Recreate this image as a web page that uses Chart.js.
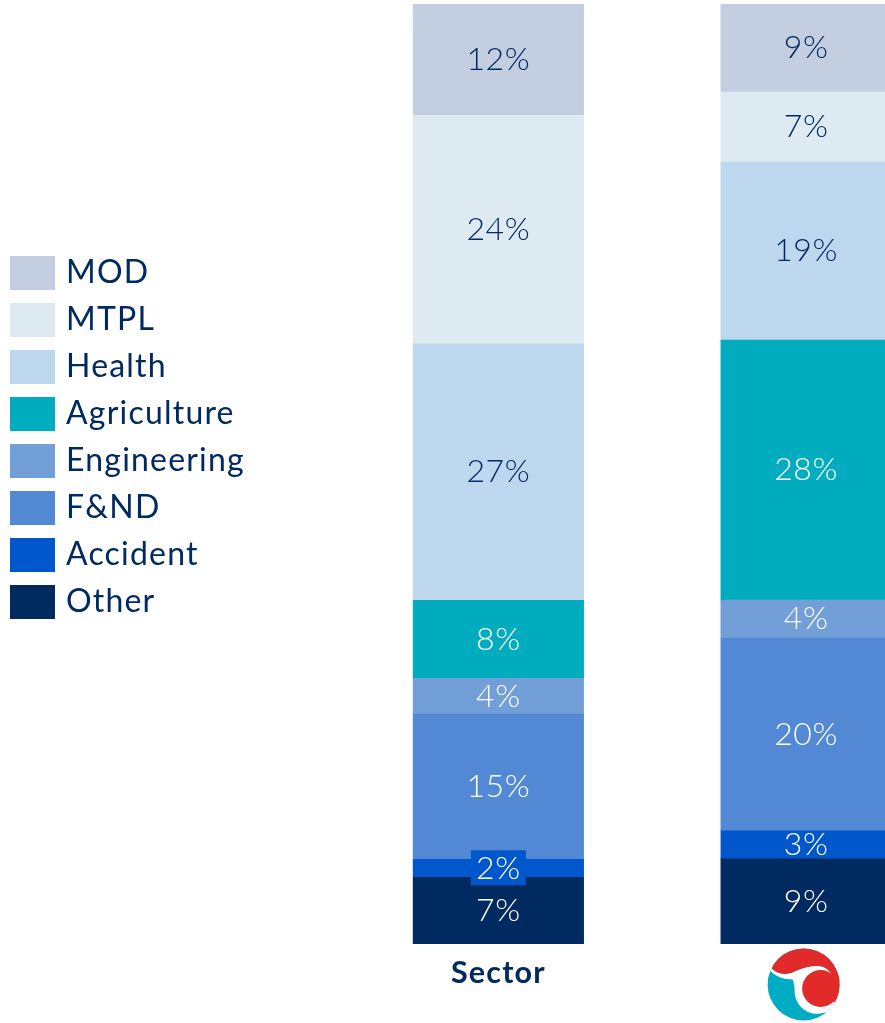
<!DOCTYPE html>
<html><head><meta charset="utf-8">
<style>html,body{margin:0;padding:0;background:#fff;overflow:hidden;width:885px;height:1023px}canvas{display:block}</style>
<script src="https://cdn.jsdelivr.net/npm/chart.js@4"></script>
</head><body><canvas id="c" width="960" height="1023"></canvas>
<script>
const categories = ['Sector', ''];
const other       = [7.1, 9.05];
const accident    = [1.9, 3.0];
const fnd         = [15.45, 20.49];
const engineering = [3.8, 4.05];
const agriculture = [8.3, 27.65];
const health      = [27.3, 18.95];
const mtpl        = [24.3, 7.45];
const mod         = [11.85, 9.36];

const NAVY = '#002A60';
const FONT = 'Lato';
const mk = (label, data, color, text) => ({label, data, backgroundColor: color, textColor: text, barThickness: 170.5, stack: 's'});
const datasets = [
  mk('Other', other, '#002A60', '#fff'),
  mk('Accident', accident, '#0057CC', '#fff'),
  mk('F&ND', fnd, '#5389D4', '#fff'),
  mk('Engineering', engineering, '#739FD9', '#fff'),
  mk('Agriculture', agriculture, '#00ACBD', '#fff'),
  mk('Health', health, '#BDD7EE', NAVY),
  mk('MTPL', mtpl, '#DEEAF1', NAVY),
  mk('MOD', mod, '#C3CEE1', NAVY)
];

const segLabels = {
  id: 'segLabels',
  afterDatasetsDraw(chart) {
    const ctx = chart.ctx;
    ctx.save();
    ctx.font = `300 32px ${FONT}`;
    ctx.letterSpacing = '0.6px';
    ctx.textAlign = 'center';
    ctx.textBaseline = 'middle';
    chart.data.datasets.forEach((ds, i) => {
      chart.getDatasetMeta(i).data.forEach((bar, j) => {
        const v = ds.data[j];
        const {x, y, base} = bar.getProps(['x', 'y', 'base'], true);
        const cy = (y + base) / 2;
        const txt = Math.round(v) + '%';
        if (j === 0 && ds.label === 'Accident') {
          ctx.fillStyle = ds.backgroundColor;
          ctx.fillRect(x - 27.5, cy - 18, 55, 35);
        }
        ctx.fillStyle = ds.textColor;
        ctx.fillText(txt, x, cy);
      });
    });
    ctx.restore();
  }
};

const logo = {
  id: 'logo',
  afterDraw(chart) {
    const ctx = chart.ctx;
    const cx = chart.scales.x.getPixelForValue(1) - 2.5;
    const cy = 984.5, r = 36;
    const RED = '#E32A2A';
    const topEdge = () => {
      ctx.moveTo(-33, -17);
      ctx.bezierCurveTo(-24, -8, -14, -10, -7, -14);
      ctx.bezierCurveTo(2, -18, 14, -20, 21, -17);
      ctx.bezierCurveTo(25, -15, 27, -12, 29, -9);
    };
    ctx.save();
    ctx.translate(cx, cy);
    ctx.beginPath(); ctx.arc(0, 0, r, 0, Math.PI * 2); ctx.fillStyle = '#00ACC3'; ctx.fill();
    ctx.clip();
    // white swoosh
    ctx.beginPath();
    topEdge();
    ctx.lineTo(40, -9); ctx.lineTo(40, 40); ctx.lineTo(21, 28);
    ctx.bezierCurveTo(8, 33, -9, 24, -9, 6);
    ctx.bezierCurveTo(-9, 1, -10, -2, -11, -5);
    ctx.bezierCurveTo(-20, -5, -28, -8, -34, -14);
    ctx.closePath();
    ctx.fillStyle = '#fff'; ctx.fill();
    // red top
    ctx.beginPath();
    topEdge();
    ctx.lineTo(40, 0); ctx.lineTo(40, -40); ctx.lineTo(-40, -40); ctx.lineTo(-40, -17);
    ctx.closePath();
    ctx.fillStyle = RED; ctx.fill();
    // red right wedge and inner disk
    ctx.beginPath();
    ctx.moveTo(17, 4);
    ctx.lineTo(32, -10);
    ctx.lineTo(40, -10); ctx.lineTo(40, 20); ctx.lineTo(31, 18);
    ctx.closePath();
    ctx.fill();
    ctx.beginPath(); ctx.arc(17, 4, 18.5, 0, Math.PI * 2); ctx.fill();
    ctx.restore();
  }
};

const legendPlace = {
  id: 'legendPlace',
  beforeDraw(chart) {
    const lg = chart.legend;
    lg.top = 242;
    lg.left = 0;
    lg.right = 300;
    chart.ctx.letterSpacing = '1.2px';
  },
  afterDraw(chart) { chart.ctx.letterSpacing = '0px'; }
};

new Chart(document.getElementById('c'), {
  type: 'bar',
  data: {labels: categories, datasets},
  plugins: [segLabels, logo, legendPlace],
  options: {
    responsive: false,
    animation: false,
    devicePixelRatio: 1,
    layout: {padding: {left: 0, right: 0, top: 4, bottom: 0}},
    plugins: {
      tooltip: {enabled: false},
      title: {display: false},
      legend: {
        display: true,
        position: 'left',
        align: 'start',
        reverse: true,
        labels: {
          boxWidth: 35, boxHeight: 24, padding: 15,
          color: NAVY,
          font: {family: FONT, size: 32, weight: '400'},
          generateLabels(chart) {
            return chart.data.datasets.map((d, i) => ({
              text: d.label, fillStyle: d.backgroundColor, strokeStyle: d.backgroundColor,
              lineWidth: 10, datasetIndex: i, fontColor: NAVY
            }));
          }
        }
      }
    },
    scales: {
      x: {
        stacked: true,
        grid: {display: false},
        border: {display: false},
        ticks: {color: NAVY, font: {family: FONT, size: 30.5, weight: '700'}, padding: 3, maxRotation: 0},
        afterFit(s) { s.height = 79; }
      },
      y: {
        stacked: true, min: 0, max: 100,
        grid: {display: false},
        border: {display: false},
        ticks: {display: false},
        afterFit(s) { s.width = 344.5 - s.chart.legend.width; }
      }
    }
  }
});
</script></body></html>
